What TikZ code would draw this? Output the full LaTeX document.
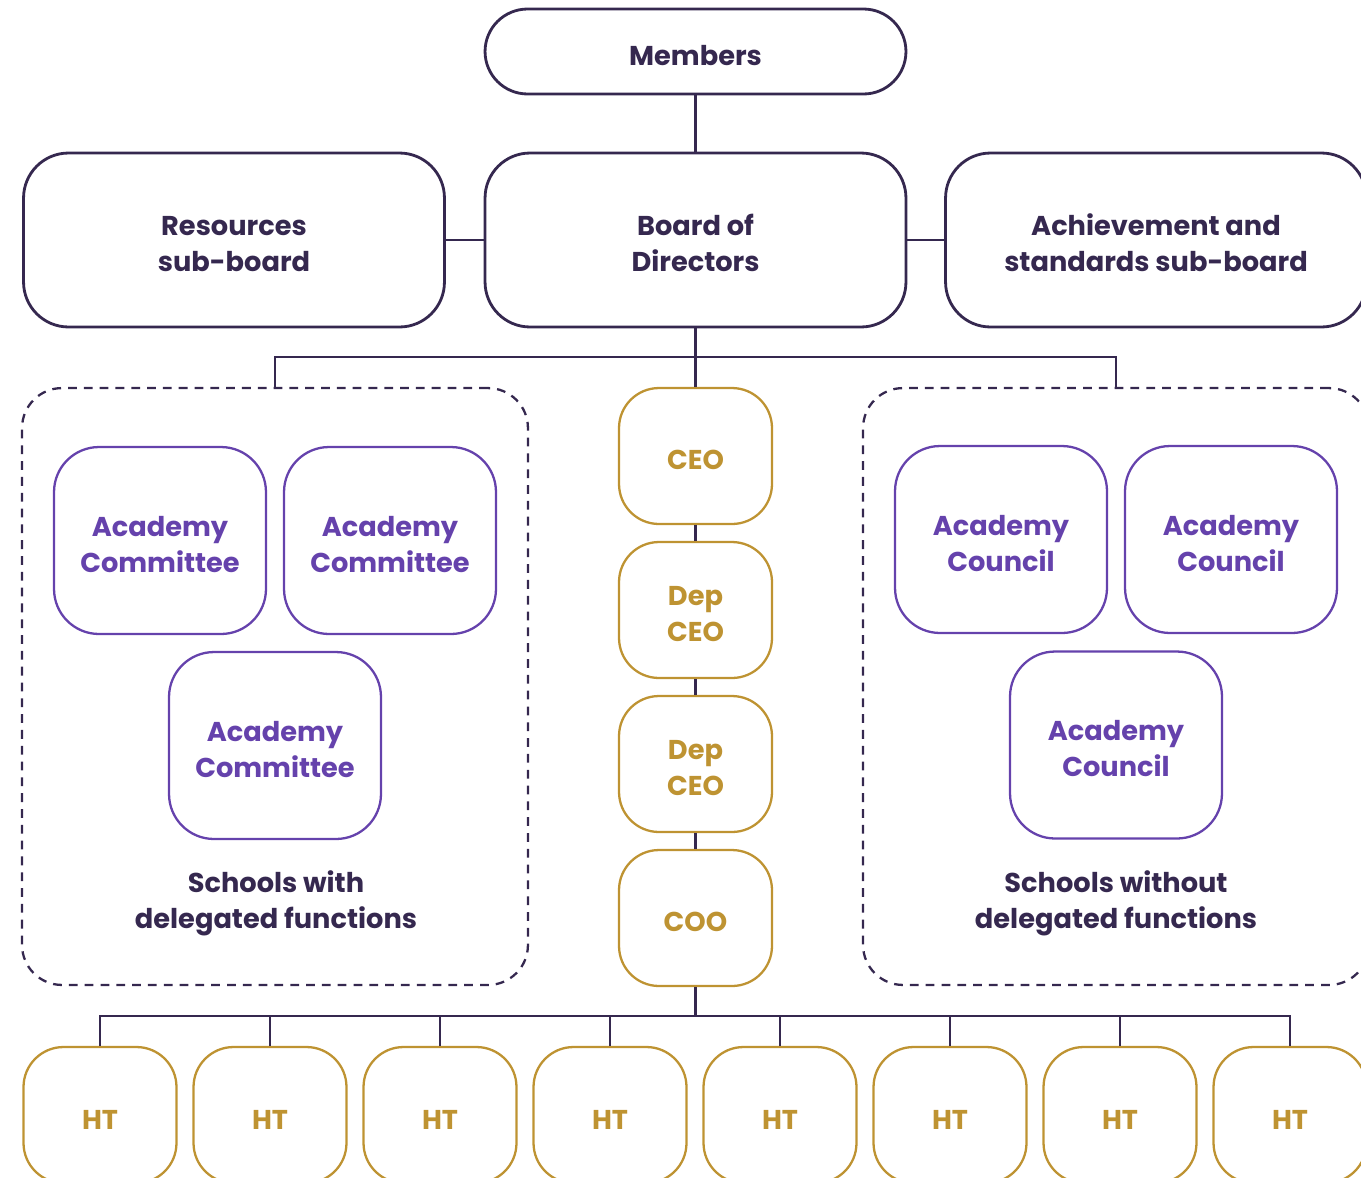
\documentclass[tikz,border=0pt]{standalone}
\usepackage{fontspec}
\setmainfont{Poppins}
\usepackage{tikz}
\usetikzlibrary{calc}
\definecolor{ink}{HTML}{35284F}
\definecolor{violet}{HTML}{6542AC}
\definecolor{ochre}{HTML}{BE9332}
\tikzset{
  txt/.style={font=\fontsize{15.5}{20.5}\selectfont\bfseries, align=center, inner sep=0pt, execute at begin node={\rule{0pt}{16pt}}},
  pair/.style={execute at begin node={\rule{0pt}{36.5pt}}},
  board/.style={txt, draw=ink, text=ink, line width=1.6pt, minimum width=8.42cm, minimum height=3.48cm, rounded corners=0.9cm},
  staff/.style={txt, draw=ochre, text=ochre, line width=1.3pt, minimum width=3.06cm, minimum height=2.72cm, rounded corners=0.8cm},
  acad/.style={txt, pair, draw=violet, text=violet, line width=1.3pt, minimum width=4.24cm, minimum height=3.74cm, rounded corners=0.9cm},
  area/.style={draw=ink, dashed, dash pattern=on 5pt off 4pt, line width=1.3pt, minimum width=10.12cm, minimum height=11.94cm, rounded corners=0.8cm},
  link/.style={draw=ink, line width=1.6pt}
}

\begin{document}
\begin{tikzpicture}[x=0.02cm,y=-0.02cm]
		\useasboundingbox (0,0) rectangle (1361,1177);
		% top level
		\node[board, minimum height=1.7cm, rounded corners=0.85cm] (members) at (695.5,51.5) {Members};
		\node[board, pair] (bod) at (695.5,240) {Board of\\Directors};
		\node[board, pair] (resources) at (234,240) {Resources\\sub-board};
		\node[board, pair] (achievement) at (1156,240) {Achievement and\\standards sub-board};
		\draw[link] (members) -- (bod);
		\draw[link] (resources) -- (bod);
		\draw[link] (bod) -- (achievement);
		% school groups
		\node[area] (with) at (275,686.5) {};
		\node[area] (without) at (1116,686.5) {};
		\coordinate (bus) at (695.5,357);
		\draw[link] (with.north) |- (bus) -| (without.north);
		\node[acad] (ac1) at (160,540.5) {Academy\\Committee};
		\node[acad] (ac2) at (390,540.5) {Academy\\Committee};
		\node[acad] (ac3) at (275,745.5) {Academy\\Committee};
		\node[txt, pair, text=ink] (withlbl) at (276,900) {Schools with\\delegated functions};
		\node[acad] (co1) at (1001,539.5) {Academy\\Council};
		\node[acad] (co2) at (1231,539.5) {Academy\\Council};
		\node[acad] (co3) at (1116,745) {Academy\\Council};
		\node[txt, pair, text=ink] (withoutlbl) at (1116,900) {Schools without\\delegated functions};
		% executive line
		\node[staff] (ceo) at (695.5,456) {CEO};
		\node[staff, pair] (dep1) at (695.5,610) {Dep\\CEO};
		\node[staff, pair] (dep2) at (695.5,764) {Dep\\CEO};
		\node[staff] (coo) at (695.5,918) {COO};
		\draw[link] (bod) -- (ceo);
		\draw[link] (ceo) -- (dep1);
		\draw[link] (dep1) -- (dep2);
		\draw[link] (dep2) -- (coo);
		% head teachers
		\coordinate (htbus) at (695.5,1016);
		\draw[link] (coo) -- (htbus);
		\foreach \i in {0,...,7}{ %HT
			\node[staff] (ht\i) at ({100+170*\i},1115) {HT};
			\draw[link] (ht\i.north) |- (htbus);
		}
	\end{tikzpicture}
\end{document}
